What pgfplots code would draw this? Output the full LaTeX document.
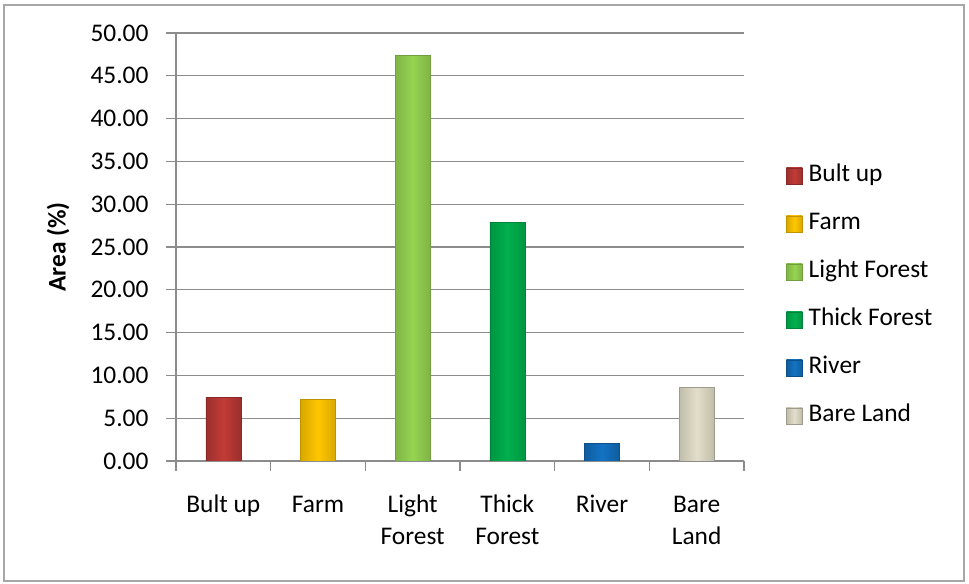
\documentclass[border=0pt]{standalone}
\usepackage{pgfplots}
\pgfplotsset{compat=1.18}
\usepackage{fontspec}
\setmainfont{Carlito}
\definecolor{cRed}{HTML}{C23B37}
\definecolor{cGold}{HTML}{FFC600}
\definecolor{cLight}{HTML}{96D452}
\definecolor{cThick}{HTML}{00B04E}
\definecolor{cRiver}{HTML}{1373C4}
\definecolor{cBare}{HTML}{E2DECA}
\definecolor{gridgray}{HTML}{8C8C8C}
\definecolor{framegray}{HTML}{A6A6A6}
\begin{document}
\begin{tikzpicture}
\path[use as bounding box] (0,0) rectangle (969bp,584bp);
\draw[color=framegray, line width=2bp] (4bp,3bp) rectangle (964bp,579bp);
\begin{axis}[
  at={(176bp,123bp)}, anchor=south west,
  scale only axis, width=568bp, height=428bp,
  ymin=0, ymax=50, ytick={0,5,...,50},
  xmin=-0.5, xmax=5.5,
  axis lines=left,
  axis line style={-, color=gridgray, line width=1.3bp},
  tick align=outside,
  major tick length=10bp,
  ymajorgrids,
  grid style={color=gridgray, line width=1.3bp},
  ytick style={color=gridgray, line width=1.3bp},
  xtick={0,...,5},
  xticklabels={\strut Bult up, \strut Farm, \strut Light\\Forest, \strut Thick\\Forest, \strut River, \strut Bare\\Land},
  xtick style={draw=none},
  extra x ticks={-0.5,0.5,...,5.5},
  extra x tick labels={},
  extra x tick style={grid=none, xtick style={draw=gridgray, line width=1.3bp}},
  xticklabel style={align=center, font=\fontsize{25.5}{32}\selectfont, yshift=-16bp},
  yticklabel style={font=\fontsize{25.5}{30}\selectfont, xshift=-14bp, /pgf/number format/fixed, /pgf/number format/fixed zerofill, /pgf/number format/precision=2},
  /pgf/number format/assume math mode=true,
  ylabel={\textbf{Area (\%)}},
  every axis y label/.style={at={(axis description cs:-0.2077,0.5)}, rotate=90, anchor=center, font=\fontsize{25.5}{30}\selectfont},
  ybar, bar width=35bp, bar shift=0pt,
  legend image code/.code={\draw[#1] (0bp,-8bp) rectangle (16bp,8bp);},
  legend cell align=left,
  legend style={draw=none, fill=none, at={(1.074,0.3857)}, anchor=west, inner sep=0pt,
    font=\fontsize{25.5}{30}\selectfont,
    nodes={inner sep=0pt, text height=17bp, text depth=5bp},
    row sep=26bp,
    /tikz/every odd column/.append style={column sep=6bp}},
]
\addplot[left color=cRed!80!black, right color=cRed!80!black, middle color=cRed, draw=cRed!70!black] coordinates {(0,7.42)};
\addlegendentry{Bult up}
\addplot[left color=cGold!85!black, right color=cGold!85!black, middle color=cGold, draw=cGold!75!black] coordinates {(1,7.23)};
\addlegendentry{Farm}
\addplot[left color=cLight!85!black, right color=cLight!85!black, middle color=cLight, draw=cLight!75!black] coordinates {(2,47.40)};
\addlegendentry{Light Forest}
\addplot[left color=cThick!85!black, right color=cThick!85!black, middle color=cThick, draw=cThick!75!black] coordinates {(3,27.87)};
\addlegendentry{Thick Forest}
\addplot[left color=cRiver!80!black, right color=cRiver!80!black, middle color=cRiver, draw=cRiver!70!black] coordinates {(4,2.07)};
\addlegendentry{River}
\addplot[left color=cBare!85!black, right color=cBare!85!black, middle color=cBare, draw=cBare!70!black] coordinates {(5,8.59)};
\addlegendentry{Bare Land}
\end{axis}
\end{tikzpicture}
\end{document}
